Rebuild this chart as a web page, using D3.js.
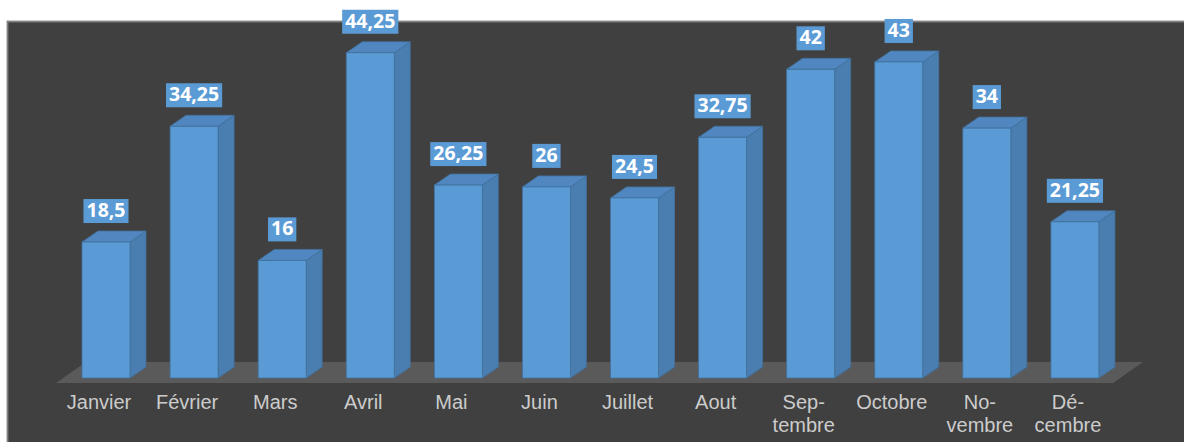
<!DOCTYPE html>
<html>
<head>
<meta charset="utf-8">
<script src="https://cdn.jsdelivr.net/npm/d3@7"></script>
<style>
  html, body { margin: 0; padding: 0; background: #fff; }
  svg { display: block; }
</style>
</head>
<body>
<div class="chart"></div>
<script>
// données du graphique
const categories = ["Janvier", "Février", "Mars", "Avril", "Mai", "Juin", "Juillet", "Aout", "Septembre", "Octobre", "Novembre", "Décembre"];
const tickLabels = [["Janvier"], ["Février"], ["Mars"], ["Avril"], ["Mai"], ["Juin"], ["Juillet"], ["Aout"], ["Sep-", "tembre"], ["Octobre"], ["No-", "vembre"], ["Dé-", "cembre"]];
const values = [18.5, 34.25, 16, 44.25, 26.25, 26, 24.5, 32.75, 42, 43, 34, 21.25];

const width = 1184;
const height = 442;

// profondeur 3D
const depthX = 16, depthY = -11;
const floorDX = 30, floorDY = -21;
const floorY = 383;
const baseY = 378;

const svg = d3.select('.chart').append('svg')
    .attr('width', width)
    .attr('height', height);

// zone du graphique
svg.append('rect')
    .attr('x', 7.5)
    .attr('y', 21.5)
    .attr('width', width)
    .attr('height', height)
    .attr('fill', '#404040')
    .attr('stroke', '#828282')
    .attr('stroke-width', 1.8);

const x = d3.scaleBand()
    .domain(categories)
    .range([56, 1113])
    .padding(0);

const y = d3.scaleLinear()
    .domain([0, 50])
    .range([baseY, 10.5]);

const barOffset = 26;
const barW = 48;

// sol
const x0 = x.range()[0], x1 = x.range()[1];
svg.append('path')
    .attr('d', `M${x0},${floorY} L${x1},${floorY} L${x1 + floorDX},${floorY + floorDY} L${x0 + floorDX},${floorY + floorDY} Z`)
    .attr('fill', '#5a5a5a');

const data = categories.map((c, i) => ({ cat: c, value: values[i], ticks: tickLabels[i] }));

const bars = svg.selectAll('g.bar')
    .data(data)
    .enter()
    .append('g')
    .attr('class', 'bar');

const stroke = '#41719c';

// face latérale
bars.append('path')
    .attr('d', d => {
        const r = x(d.cat) + barOffset + barW;
        const t = y(d.value);
        return `M${r},${baseY} L${r},${t} L${r + depthX},${t + depthY} L${r + depthX},${baseY + depthY} Z`;
    })
    .attr('fill', '#4a7db0')
    .attr('stroke', stroke)
    .attr('stroke-width', 0.8)
    .attr('stroke-linejoin', 'round');

// dessus
bars.append('path')
    .attr('d', d => {
        const l = x(d.cat) + barOffset;
        const r = l + barW;
        const t = y(d.value);
        return `M${l},${t} L${r},${t} L${r + depthX},${t + depthY} L${l + depthX},${t + depthY} Z`;
    })
    .attr('fill', '#5087c0')
    .attr('stroke', stroke)
    .attr('stroke-width', 0.8)
    .attr('stroke-linejoin', 'round');

// face avant
bars.append('rect')
    .attr('x', d => x(d.cat) + barOffset)
    .attr('y', d => y(d.value))
    .attr('width', barW)
    .attr('height', d => baseY - y(d.value))
    .attr('fill', '#5b9bd5')
    .attr('stroke', stroke)
    .attr('stroke-width', 0.8);

// étiquettes de valeurs
bars.append('g').each(function (d) {
    const g = d3.select(this);
    const cx = x(d.cat) + barOffset + barW / 2;
    const bottom = y(d.value) + depthY - 8;
    const txt = g.append('text')
        .attr('x', cx)
        .attr('y', bottom - 6)
        .attr('text-anchor', 'middle')
        .attr('fill', '#ffffff')
        .style('font-family', '"Noto Sans", sans-serif')
        .style('font-weight', 'bold')
        .style('font-size', '19.5px')
        .text(String(d.value).replace('.', ','));
    const w = txt.node().getComputedTextLength() + 6;
    g.insert('rect', 'text')
        .attr('x', cx - w / 2)
        .attr('y', bottom - 24)
        .attr('width', w)
        .attr('height', 24)
        .attr('fill', '#5b9bd5');
});

// étiquettes de l'axe (une ligne = un texte)
bars.each(function (d) {
    const cx = x(d.cat) + x.bandwidth() / 2 - 1;
    d3.select(this).selectAll('text.tick')
        .data(d.ticks)
        .enter()
        .append('text')
        .attr('class', 'tick')
        .attr('x', cx)
        .attr('y', (t, i) => 408.5 + i * 23.5)
        .attr('text-anchor', 'middle')
        .attr('fill', '#cccccc')
        .style('font-family', '"Liberation Sans", Arial, sans-serif')
        .style('font-size', '20px')
        .text(t => t);
});
</script>
</body>
</html>
